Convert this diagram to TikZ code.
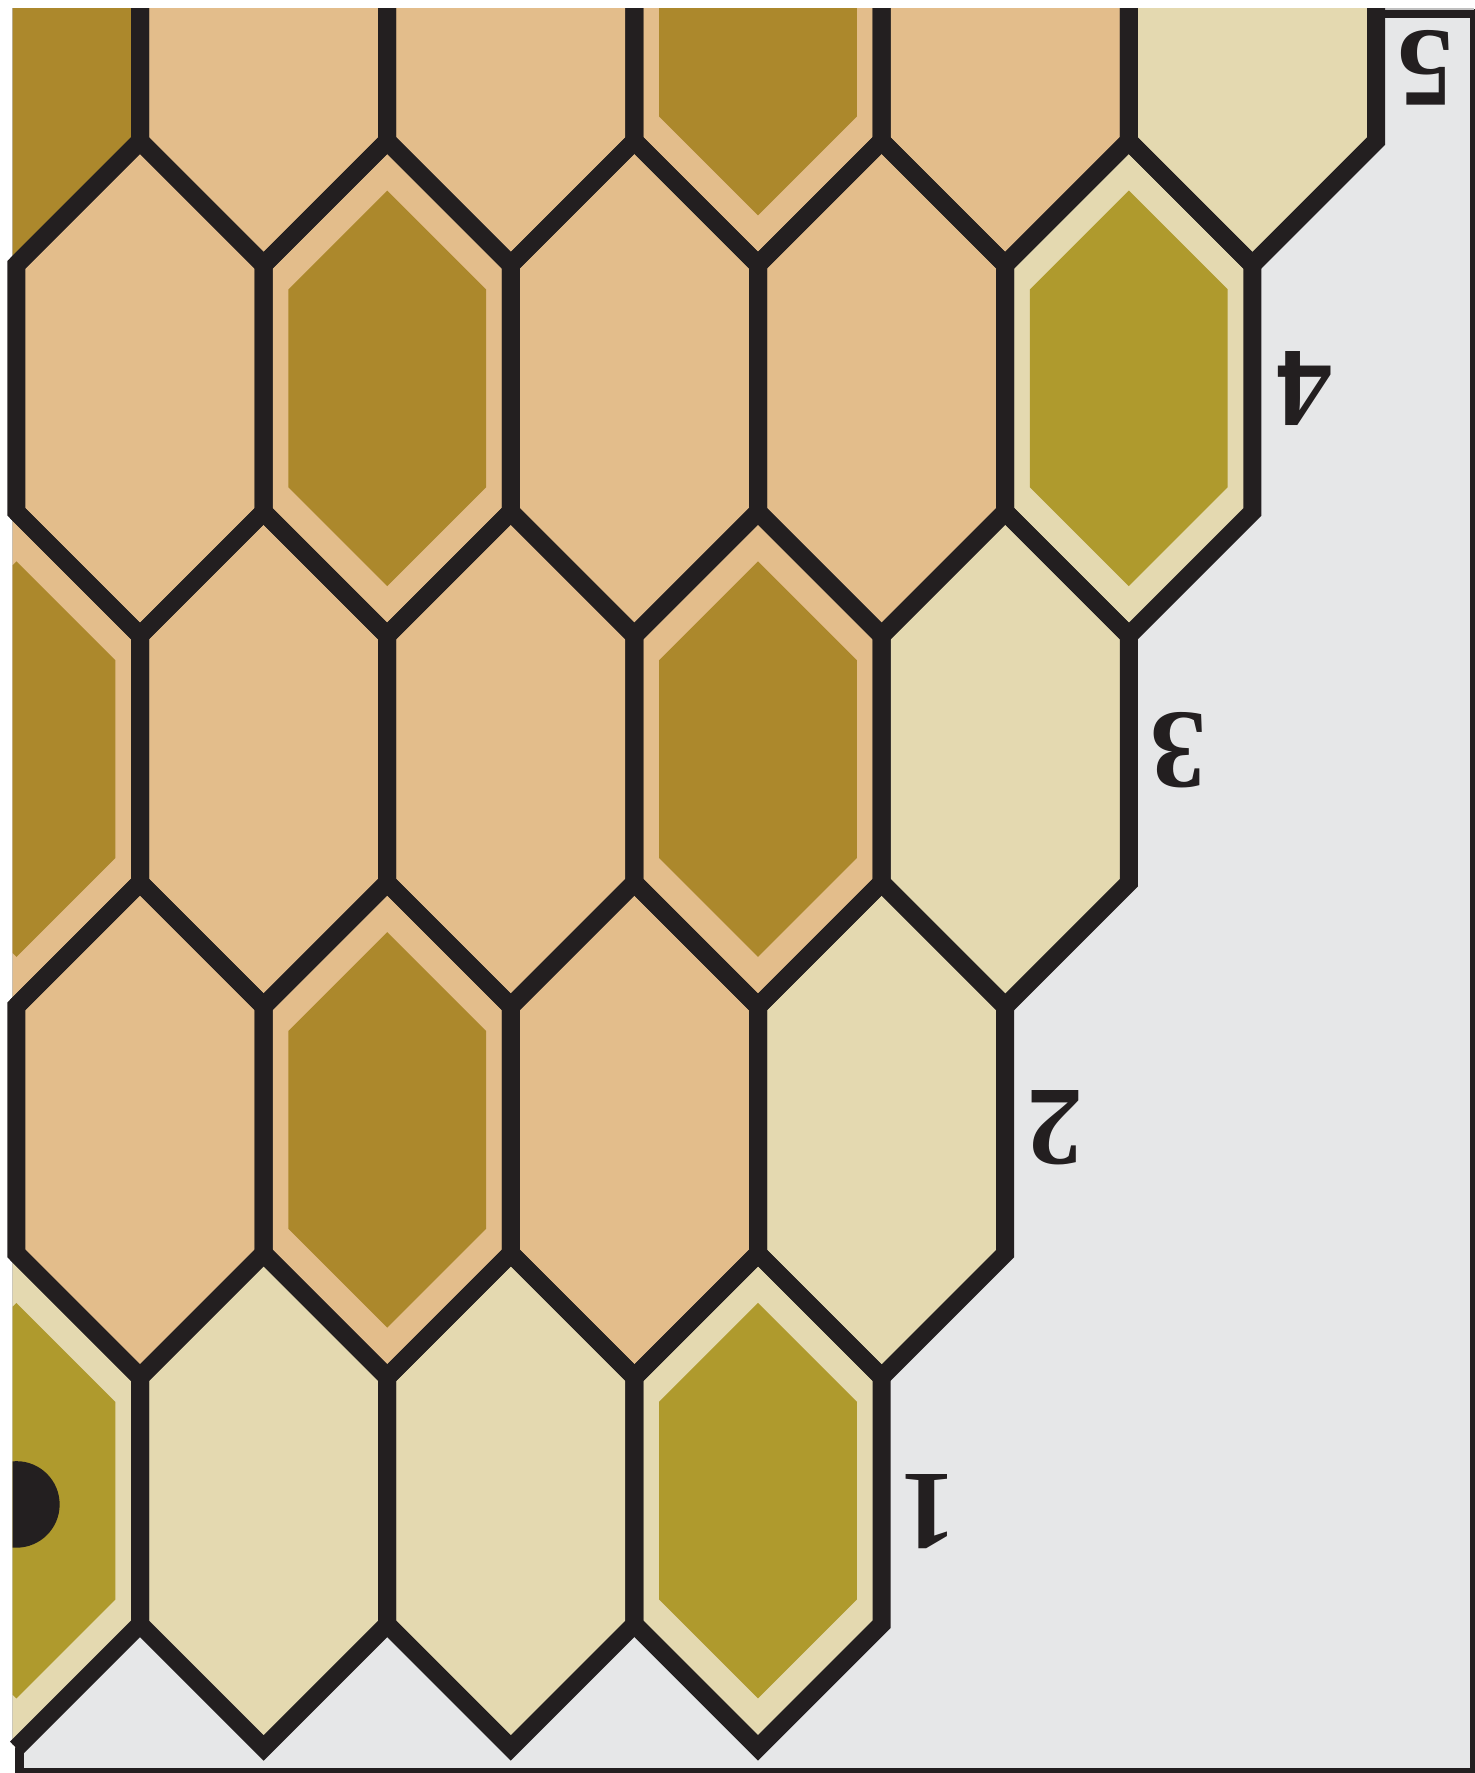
\documentclass[tikz,border=0pt]{standalone}
\usepackage{fontspec}
\newfontfamily\numfont{Liberation Serif}
\definecolor{ocra}{HTML}{E3BD8B}
\definecolor{ocrascuro}{HTML}{AC882C}
\definecolor{sabbia}{HTML}{E4D9B0}
\definecolor{oliva}{HTML}{AF9A2D}
\definecolor{sfondo}{HTML}{E6E7E8}
\definecolor{bordo}{HTML}{231F20}
\tikzset{
  contorno/.style={draw=bordo, line width=0.18cm, line join=miter},
  cornice/.style={draw=bordo, line width=0.09cm, fill=sfondo},
  etichetta/.style={rotate=180, text=bordo, inner sep=0pt, font=\numfont\bfseries\fontsize{32}{32}\selectfont},
}
\begin{document}
\begin{tikzpicture}[x=1.236cm, y=-1.236cm]
        \useasboundingbox (-0.1327,-0.1416) rectangle (11.793,14.203);
        % cornice
        \draw[cornice] (0.025,-0.036) rectangle (11.797,14.199);
        \draw[black!25, line width=0.4pt] (-0.03,13.98) -- (-0.03,-0.07) -- (11.793,-0.07);
        % celle
        \begin{scope}
        \clip (-0.03,-0.07) rectangle (12,15);
        \foreach \x/\y in {2/0,4/0,6/0,8/0,1/3,3/3,5/3,7/3,0/6,2/6,4/6,6/6,1/9,3/9,5/9}
            \fill[ocra] (\x,\y-2) -- (\x+1,\y-1) -- (\x+1,\y+1) -- (\x,\y+2) -- (\x-1,\y+1) -- (\x-1,\y-1) -- cycle;
        \foreach \x/\y in {10/0,9/3,8/6,7/9,0/12,2/12,4/12,6/12}
            \fill[sabbia] (\x,\y-2) -- (\x+1,\y-1) -- (\x+1,\y+1) -- (\x,\y+2) -- (\x-1,\y+1) -- (\x-1,\y-1) -- cycle;
        \fill[ocrascuro] (0,-2) -- (1,-1) -- (1,1) -- (0,2) -- (-1,1) -- (-1,-1) -- cycle;
        % esagoni interni
        \foreach \x/\y in {6/0,3/3,0/6,6/6,3/9}
            \fill[ocrascuro] (\x,\y-1.6) -- (\x+0.8,\y-0.8) -- (\x+0.8,\y+0.8) -- (\x,\y+1.6) -- (\x-0.8,\y+0.8) -- (\x-0.8,\y-0.8) -- cycle;
        \foreach \x/\y in {9/3,0/12,6/12}
            \fill[oliva] (\x,\y-1.6) -- (\x+0.8,\y-0.8) -- (\x+0.8,\y+0.8) -- (\x,\y+1.6) -- (\x-0.8,\y+0.8) -- (\x-0.8,\y-0.8) -- cycle;
        % punto
        \fill[bordo] (0,12.03) circle (0.35);
        \end{scope}
        % contorni
        \begin{scope}
        \clip (-1,-0.07) rectangle (12,15);
        \foreach \x/\y in {2/0,4/0,6/0,8/0,10/0,1/3,3/3,5/3,7/3,9/3,2/6,4/6,6/6,8/6,1/9,3/9,5/9,7/9,2/12,4/12,6/12}
            \draw[contorno] (\x,\y-2) -- (\x+1,\y-1) -- (\x+1,\y+1) -- (\x,\y+2) -- (\x-1,\y+1) -- (\x-1,\y-1) -- cycle;
        \foreach \y in {0,6,12}
            \draw[contorno] (0,\y-2) -- (1,\y-1) -- (1,\y+1) -- (0,\y+2);
        \end{scope}
        % numeri
        \node[etichetta] (n5) at (11.396,0.409) {5};
        \node[etichetta] (n4) at (10.417,2.998) {4};
        \node[etichetta] (n3) at (9.398,5.926) {3};
        \node[etichetta] (n2) at (8.403,8.985) {2};
        \node[etichetta] (n1) at (7.375,12.09) {1};
\end{tikzpicture}
\end{document}
